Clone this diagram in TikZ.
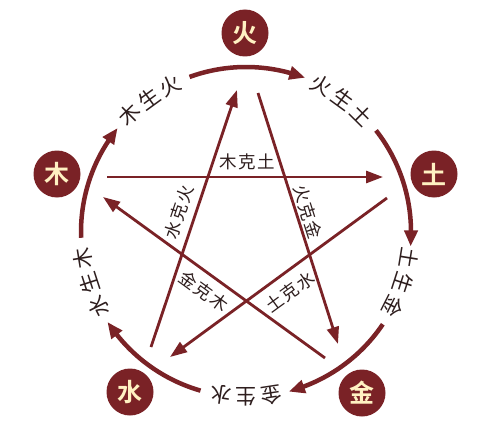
\documentclass[tikz,border=0pt]{standalone}
\usepackage{fontspec}
\newfontfamily\cjk{Noto Sans CJK SC}
\newfontfamily\cjkspaced[LetterSpace=8]{Noto Sans CJK SC}
\newfontfamily\cjkbold{Noto Sans CJK SC Bold}
\usetikzlibrary{arrows.meta,bending,calc}
\definecolor{maroon}{HTML}{7A2226}
\definecolor{cream}{HTML}{FFF1C2}
\definecolor{ink}{HTML}{2E1E1E}
\tikzset{
  element/.style={circle,fill=maroon,minimum size=47pt,inner sep=0pt,text=cream,font=\cjkbold\fontsize{25}{25}\selectfont},
  cyclearc/.style={draw=maroon,line width=4.5pt,-{Triangle[length=16pt,width=13pt,bend]}},
  starline/.style={draw=maroon,line width=2.8pt,-{Triangle[length=17pt,width=12pt]}},
  cyclechar/.style={text=ink,font=\cjk\fontsize{21}{21}\selectfont,inner sep=0pt},
  starlabel/.style={text=ink,font=\cjkspaced\fontsize{17.5}{17.5}\selectfont,inner sep=0pt}
}
% place three characters along the circle, reading clockwise, tops outward
\newcommand\arclabel[5]{%
  \node[cyclechar,rotate=#1+8.8-90] (#2a) at ($(O)+(#1+8.8:165)$) {#3};
  \node[cyclechar,rotate=#1-90]     (#2b) at ($(O)+(#1:165)$) {#4};
  \node[cyclechar,rotate=#1-8.8-90] (#2c) at ($(O)+(#1-8.8:165)$) {#5};}
\begin{document}
\begin{tikzpicture}[x=1pt,y=1pt]
\useasboundingbox (0,0) rectangle (492,424);
\fill[white] (0,0) rectangle (492,424);
\coordinate (O) at (246,192);
% elements
\node[element] (fire)  at (245,391) {火};
\node[element] (wood)  at (57,250)  {木};
\node[element] (earth) at (434,250) {土};
\node[element] (water) at (130,32)  {水};
\node[element] (metal) at (362,31)  {金};
% generating cycle arcs
\def\R{165}
\draw[cyclearc] ($(O)+(182:\R)$) arc[start angle=182,end angle=141,radius=\R];
\draw[cyclearc] ($(O)+(110:\R)$) arc[start angle=110,end angle=69,radius=\R];
\draw[cyclearc] ($(O)+(38:\R)$) arc[start angle=38,end angle=-5,radius=\R];
\draw[cyclearc] ($(O)+(-34:\R)$) arc[start angle=-34,end angle=-75,radius=\R];
\draw[cyclearc] ($(O)+(-106:\R)$) arc[start angle=-106,end angle=-147,radius=\R];
% generating labels
\arclabel{126}{la}{木}{生}{火}
\arclabel{54}{lb}{火}{生}{土}
\arclabel{-18}{lc}{土}{生}{金}
\arclabel{-90}{ld}{金}{生}{水}
\arclabel{198}{le}{水}{生}{木}
% controlling star
\coordinate (a1) at (107,247); \coordinate (b1) at (383,247);
\coordinate (a2) at (258,331); \coordinate (b2) at (338,80);
\coordinate (a3) at (325,66);  \coordinate (b3) at (103,227);
\coordinate (a4) at (151,77);  \coordinate (b4) at (237,334);
\coordinate (a5) at (387,226); \coordinate (b5) at (170,67);
\draw[starline] (a1) -- (b1);
\draw[starline] (a2) -- (b2);
\draw[starline] (a3) -- (b3);
\draw[starline] (a4) -- (b4);
\draw[starline] (a5) -- (b5);
\node[starlabel] (s1) at (247,262) {木克土};
\node[starlabel,rotate=-72.4] (s2) at (308,212) {火克金};
\node[starlabel,rotate=-36] (s3) at (204,133) {金克木};
\node[starlabel,rotate=71.5] (s4) at (179,212) {水克火};
\node[starlabel,rotate=36] (s5) at (290,132) {土克水};
\end{tikzpicture}
\end{document}
